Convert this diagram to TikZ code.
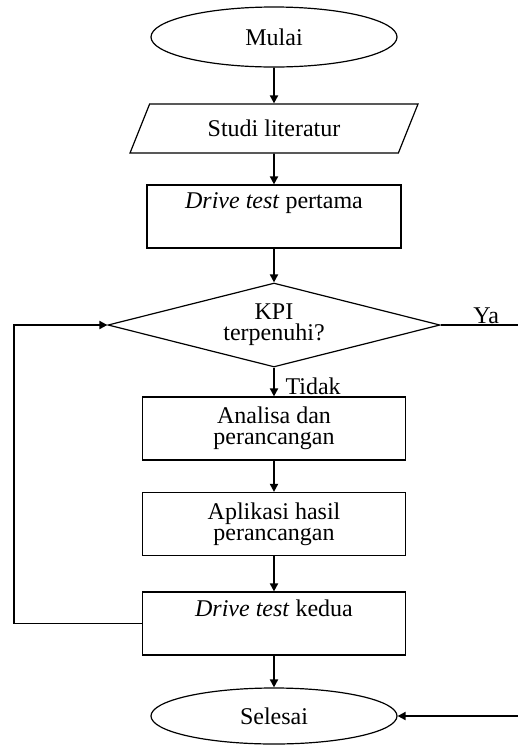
\documentclass[tikz,border=0pt]{standalone}
\usepackage{fontspec}
\setmainfont{Liberation Serif}
\usetikzlibrary{shapes.geometric,arrows.meta}

\begin{document}
\begin{tikzpicture}[x=0.5pt,y=-0.5pt,
	font=\fontsize{12}{10.5}\selectfont,
	box/.style={draw,line width=0.6pt,minimum width=131.5pt,minimum height=31.5pt,inner sep=0pt,align=center},
	term/.style={draw,ellipse,line width=0.6pt,minimum width=123pt,inner sep=0pt},
	flow/.style={-{Triangle[length=4pt,width=4pt]},line width=0.9pt},
	plain/.style={line width=0.9pt}]
	\useasboundingbox (0,0) rectangle (518,745);
	% langkah
	\node[term,minimum height=30pt] (mulai) at (274,37) {Mulai};
	\node[draw,trapezium,trapezium left angle=40.7,trapezium right angle=139.3,trapezium stretches body,
		minimum width=144pt,minimum height=24.5pt,inner sep=0pt,line width=0.6pt] (studi) at (274,128.5) {Studi literatur};
	\node[box,minimum width=127pt] (pertama) at (274,216.5) {\textit{Drive test} pertama\\[5pt]~};
	\node[draw,diamond,aspect=3.95,minimum width=166pt,minimum height=42pt,inner sep=0pt,align=center,line width=0.6pt] (kpi) at (274,325) {KPI\\terpenuhi?};
	\node[box] (analisa) at (274,428.5) {Analisa dan\\perancangan};
	\node[box] (aplikasi) at (274,524) {Aplikasi hasil\\perancangan};
	\node[box] (kedua) at (274,623.5) {\textit{Drive test} kedua\\[5pt]~};
	\node[term,minimum height=28pt] (selesai) at (274,716) {Selesai};
	\coordinate (ya) at (518,325);
	\coordinate (balik) at (14,623.5);
	\coordinate (masuk) at (518,716);
	% panah
	\draw[flow] (mulai) -- (studi);
	\draw[flow] (studi) -- (pertama);
	\draw[flow] (pertama) -- (kpi);
	\draw[flow] (kpi) -- node[right,pos=0.65,xshift=2pt]{Tidak} (analisa);
	\draw[flow] (analisa) -- (aplikasi);
	\draw[flow] (aplikasi) -- (kedua);
	\draw[flow] (kedua) -- (selesai);
	\draw[plain] (kpi.east) -- node[above,pos=0.59,inner sep=0pt]{Ya} (ya);
	\draw[flow] (kedua.west) -- (balik) |- (kpi.west);
	\draw[flow] (masuk) -- (selesai.east);
\end{tikzpicture}
\end{document}
